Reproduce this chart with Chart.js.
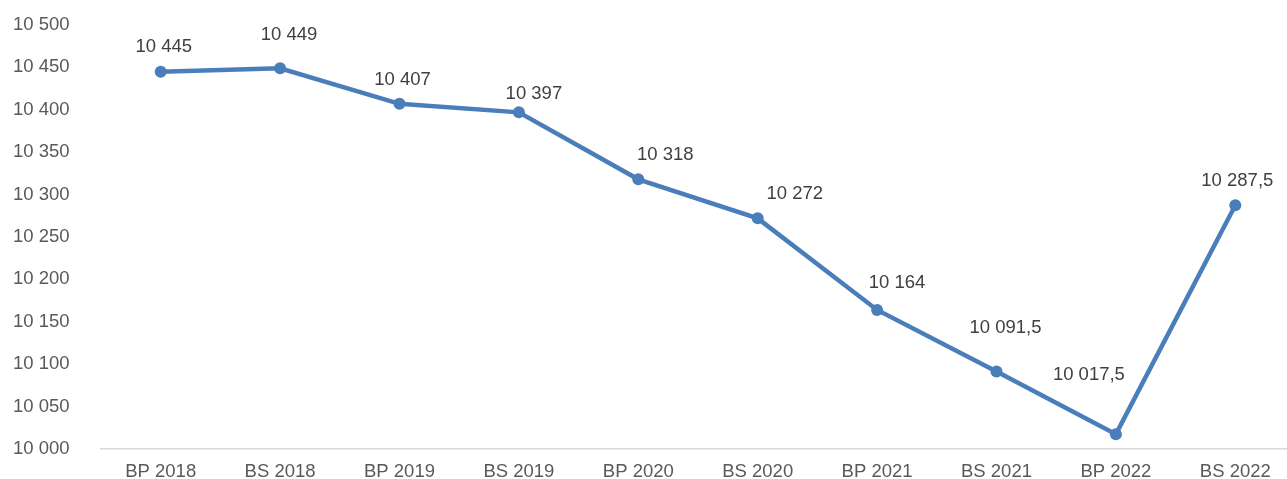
<!DOCTYPE html>
<html>
<head>
<meta charset="utf-8">
<script src="https://cdn.jsdelivr.net/npm/chart.js@4/dist/chart.umd.min.js"></script>
<style>
  html, body { margin: 0; padding: 0; background: #fff; overflow: hidden; width: 1287px; height: 479px; }
  #c { display: block; }
</style>
</head>
<body>
<canvas id="c" width="1301" height="479"></canvas>
<script>
const categories = ['BP 2018', 'BS 2018', 'BP 2019', 'BS 2019', 'BP 2020', 'BS 2020', 'BP 2021', 'BS 2021', 'BP 2022', 'BS 2022'];
const values = [10445, 10449, 10407, 10397, 10318, 10272, 10164, 10091.5, 10017.5, 10287.5];
const yMin = 10000;
const yMax = 10500;
const yStep = 50;
// label placement offsets (style only), [dx, dy] in px relative to point
const labelOffsets = [[3,-25],[9,-33],[3,-24],[15,-18],[27,-24],[37,-24],[20,-27],[9,-44],[-27,-59],[2,-24]];

function fmt(v) {
  const neg = v < 0;
  v = Math.abs(v);
  let [ip, dp] = String(v).split('.');
  ip = ip.replace(/\B(?=(\d{3})+(?!\d))/g, ' ');
  return (neg ? '-' : '') + ip + (dp ? ',' + dp : '');
}

const FONT = 'Liberation Sans, Arial, sans-serif';
const COLOR = '#4A7EBB';

const labelPlugin = {
  id: 'pointLabels',
  afterDatasetsDraw(chart) {
    const ctx = chart.ctx;
    const meta = chart.getDatasetMeta(0);
    ctx.save();
    ctx.font = '18.5px ' + FONT;
    ctx.fillStyle = '#404040';
    ctx.textAlign = 'center';
    ctx.textBaseline = 'middle';
    meta.data.forEach((pt, i) => {
      const off = labelOffsets[i] || [0, -25];
      ctx.fillText(fmt(values[i]), pt.x + off[0], pt.y + off[1]);
    });
    ctx.restore();
  }
};

new Chart(document.getElementById('c'), {
  type: 'line',
  data: {
    labels: categories,
    datasets: [{
      data: values,
      borderColor: COLOR,
      backgroundColor: COLOR,
      borderWidth: 4.5,
      pointRadius: 6,
      pointHoverRadius: 6,
      pointBackgroundColor: COLOR,
      pointBorderWidth: 0,
      tension: 0,
      fill: false
    }]
  },
  options: {
    responsive: false,
    animation: false,
    devicePixelRatio: 1,
    layout: { padding: { top: 25, left: 13, right: 0, bottom: 0 } },
    plugins: { legend: { display: false }, tooltip: { enabled: false } },
    scales: {
      x: {
        offset: true,
        grid: { display: false, drawTicks: false },
        border: { display: true, color: '#D9D9D9', width: 1.5 },
        ticks: {
          color: '#595959',
          font: { family: FONT, size: 18.5 },
          padding: 12,
          maxRotation: 0,
          autoSkip: false
        },
        afterFit(s) { s.height = 30; }
      },
      y: {
        min: yMin,
        max: yMax,
        grid: { display: false, drawTicks: false },
        border: { display: false },
        ticks: {
          stepSize: yStep,
          color: '#595959',
          font: { family: FONT, size: 18.5 },
          padding: 0,
          crossAlign: 'far',
          callback: v => fmt(v)
        },
        afterFit(s) { s.width = 88; }
      }
    }
  },
  plugins: [labelPlugin]
});
</script>
</body>
</html>
